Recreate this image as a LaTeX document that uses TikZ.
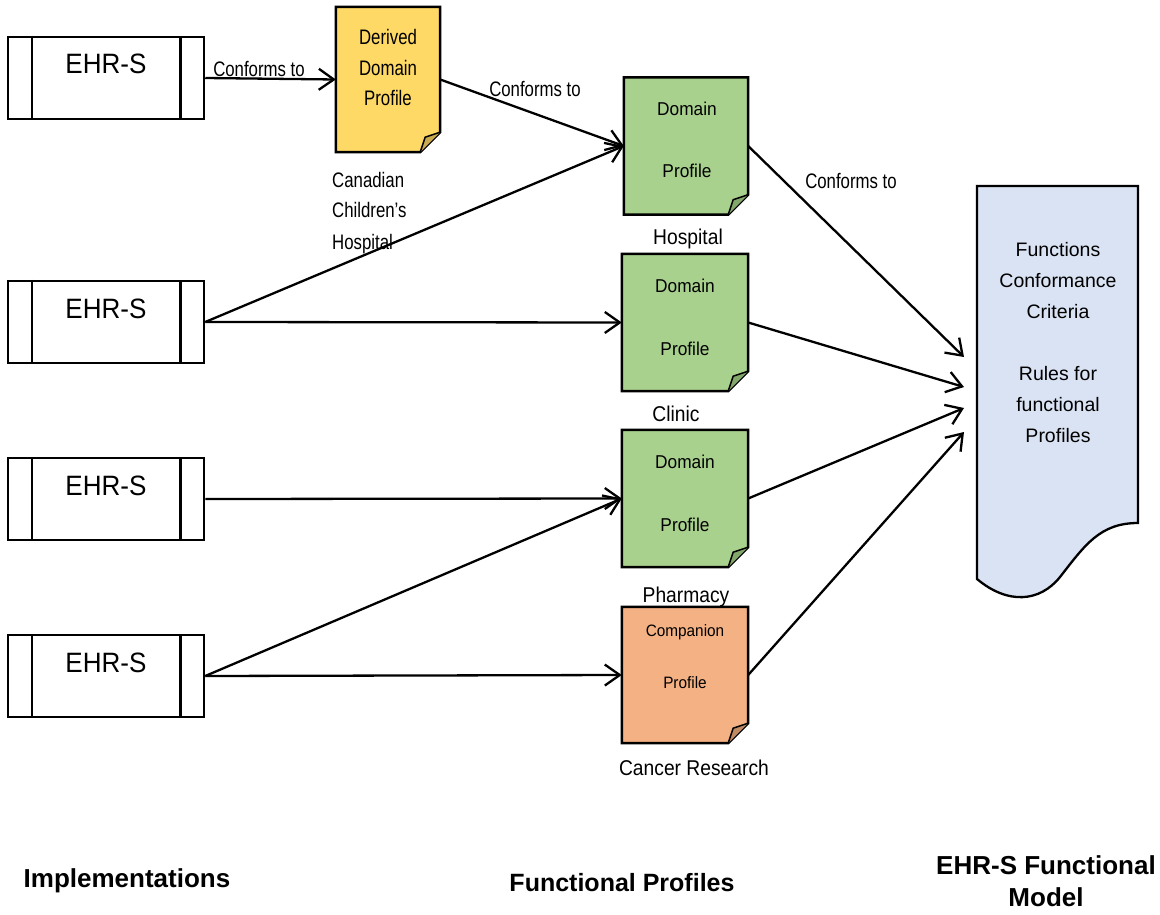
\documentclass[tikz,border=0pt]{standalone}
\usepackage{fontspec}
\setmainfont{Liberation Sans}
\newfontfamily\fcA[FakeStretch=0.80]{Liberation Sans}
\newfontfamily\fcB[FakeStretch=0.90]{Liberation Sans}
\newfontfamily\fcC[FakeStretch=0.93]{Liberation Sans}
\usetikzlibrary{arrows.meta}
\definecolor{yel}{HTML}{FFD966}
\definecolor{yeldk}{HTML}{C9AA4E}
\definecolor{grn}{HTML}{A9D18E}
\definecolor{grndk}{HTML}{83A66B}
\definecolor{org}{HTML}{F4B183}
\definecolor{orgdk}{HTML}{C08A63}
\definecolor{blu}{HTML}{DAE3F3}
\tikzset{
  ehrbox/.style={draw, line width=2.5pt, minimum width=196pt, minimum height=82pt, inner sep=0pt},
  ehrbar/.style={line width=2.5pt},
  docnode/.style={inner sep=0pt, minimum width=124pt, minimum height=137pt},
  docline/.style={draw, line width=2.5pt, line join=miter},
  conn/.style={draw, line width=2.3pt, -{Straight Barb[length=15pt,width=21pt]}},
  tcf/.style={inner sep=0pt, anchor=base, font=\fcA\fontsize{21}{24}\selectfont},
  tdp/.style={inner sep=0pt, anchor=base, font=\fcC\fontsize{18.6}{22}\selectfont},
  tcp/.style={inner sep=0pt, anchor=base, font=\fcC\fontsize{16.5}{20}\selectfont},
  tlb/.style={inner sep=0pt, anchor=base, font=\fcB\fontsize{21.4}{25}\selectfont},
  tfm/.style={inner sep=0pt, anchor=base, font=\fontsize{19.5}{24}\selectfont},
  tehr/.style={inner sep=0pt, anchor=base, font=\fcC\fontsize{28}{32}\selectfont},
  tb/.style={inner sep=0pt, anchor=base, font=\fontsize{26}{30}\selectfont\bfseries},
}
\newcommand{\ehrbars}[1]{%
  \draw[ehrbar] ([xshift=25pt]#1.north west) -- ([xshift=25pt]#1.south west);
  \draw[ehrbar] ([xshift=-25pt]#1.north east) -- ([xshift=-25pt]#1.south east);}
\newcommand{\docoutline}[3]{%
  \draw[docline, fill=#2] (#1.north west) -- (#1.north east) -- ([yshift=20pt]#1.south east)
     -- ([xshift=-20pt]#1.south east) -- (#1.south west) -- cycle;
  \draw[line width=1.5pt, fill=#3, line join=round] ([xshift=-20pt]#1.south east)
     -- ([xshift=-15pt,yshift=15pt]#1.south east) -- ([yshift=20pt]#1.south east);}
\begin{document}
\begin{tikzpicture}[x=1pt, y=-1pt]
\useasboundingbox (0,0) rectangle (1160,915);

% implementations
\node[ehrbox] (e1) at (106,78) {};
\node[ehrbox] (e2) at (106,322) {};
\node[ehrbox] (e3) at (106,499) {};
\node[ehrbox] (e4) at (106,676) {};
\ehrbars{e1}\ehrbars{e2}\ehrbars{e3}\ehrbars{e4}
\node[tehr] (e1t) at (106,74) {EHR-S};
\node[tehr] (e2t) at (106,318) {EHR-S};
\node[tehr] (e3t) at (106,495) {EHR-S};
\node[tehr] (e4t) at (106,672) {EHR-S};

% derived profile
\node[docnode, minimum width=104pt, minimum height=145pt] (dd) at (388,79.5) {};
\docoutline{dd}{yel}{yeldk}
\node[tcf] (ddt1) at (388,45) {Derived};
\node[tcf] (ddt2) at (388,76) {Domain};
\node[tcf] (ddt3) at (388,106) {Profile};
\node[tcf, anchor=base west] (cc1) at (332,188) {Canadian};
\node[tcf, anchor=base west] (cc2) at (332,218) {Children’s};
\node[tcf, anchor=base west] (cc3) at (332,249) {Hospital};

% domain profiles
\node[docnode] (hp) at (686,146) {};
\docoutline{hp}{grn}{grndk}
\node[tdp] (hpt1) at (687,116) {Domain};
\node[tdp] (hpt2) at (687,178) {Profile};
\node[tlb] (hpl) at (688,244) {Hospital};

\node[docnode, minimum width=126pt] (cl) at (685,322.5) {};
\docoutline{cl}{grn}{grndk}
\node[tdp] (clt1) at (685,292) {Domain};
\node[tdp] (clt2) at (685,355) {Profile};
\node[tlb] (cll) at (676,421) {Clinic};

\node[docnode, minimum width=126pt] (ph) at (685,498.5) {};
\docoutline{ph}{grn}{grndk}
\node[tdp] (pht1) at (685,468) {Domain};
\node[tdp] (pht2) at (685,531) {Profile};
\node[tlb] (phl) at (686,602) {Pharmacy};

\node[docnode, minimum width=126pt, minimum height=136pt] (cp) at (685,675) {};
\docoutline{cp}{org}{orgdk}
\node[tcp] (cpt1) at (685,636) {Companion};
\node[tcp] (cpt2) at (685,688) {Profile};
\node[tlb] (cpl) at (694,775) {Cancer Research};

% functional model
\draw[line width=2.3pt, fill=blu] (977,186) -- (1138,186) -- (1138,523)
  .. controls (1100,523) and (1085,545) .. (1060,577)
  .. controls (1040,602) and (1008,605) .. (977,579) -- cycle;
\node[inner sep=0pt, minimum width=161pt, minimum height=337pt] (fm) at (1057.5,354.5) {};
\node[tfm] (fm1) at (1058,256) {Functions};
\node[tfm] (fm2) at (1058,287) {Conformance};
\node[tfm] (fm3) at (1058,318) {Criteria};
\node[tfm] (fm4) at (1058,380) {Rules for};
\node[tfm] (fm5) at (1058,411) {functional};
\node[tfm] (fm6) at (1058,442) {Profiles};
\coordinate (b1) at (964,357);
\coordinate (b2) at (964,387);
\coordinate (b3) at (964,408);
\coordinate (b4) at (964,432);

% connectors
\draw[conn] (e1.east) -- (dd.west);
\draw[conn] (dd.east) -- (hp.west);
\draw[conn] (e2.east) -- (hp.west);
\draw[conn] (e2.east) -- (cl.west);
\draw[conn] (e3.east) -- (ph.west);
\draw[conn] (e4.east) -- (ph.west);
\draw[conn] (e4.east) -- (cp.west);
\draw[conn] (hp.east) -- (b1);
\draw[conn] (cl.east) -- (b2);
\draw[conn] (ph.east) -- (b3);
\draw[conn] (cp.east) -- (b4);
\node[tcf] (c1) at (259,77) {Conforms to};
\node[tcf] (c2) at (535,97) {Conforms to};
\node[tcf] (c3) at (851,189) {Conforms to};

% column titles
\node[tb] (col1) at (127,887) {Implementations};
\node[tb, font=\fontsize{25}{30}\selectfont\bfseries] (col2) at (622,891) {Functional Profiles};
\node[tb] (col3a) at (1046,874) {EHR-S Functional};
\node[tb] (col3b) at (1046,906) {Model};
\end{tikzpicture}
\end{document}
